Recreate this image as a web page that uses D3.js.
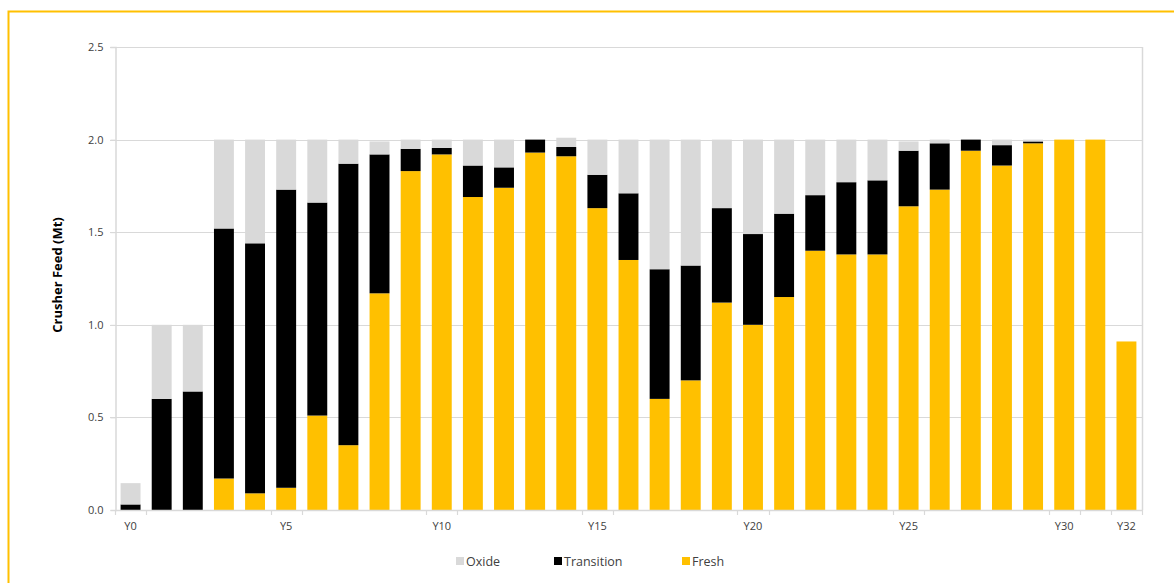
<!DOCTYPE html>
<html>
<head>
<meta charset="utf-8">
<script src="https://cdn.jsdelivr.net/npm/d3@7"></script>
<style>
  html, body { margin: 0; padding: 0; background: #fff; }
  svg { display: block; font-family: "Open Sans", "Noto Sans", sans-serif; }
</style>
</head>
<body>
<svg id="chart" width="1174" height="583"></svg>
<script>
// Crusher feed by ore type per year (Mt)
const years = ["Y0","Y1","Y2","Y3","Y4","Y5","Y6","Y7","Y8","Y9","Y10","Y11","Y12","Y13","Y14","Y15","Y16",
               "Y17","Y18","Y19","Y20","Y21","Y22","Y23","Y24","Y25","Y26","Y27","Y28","Y29","Y30","Y31","Y32"];
const fresh      = [0, 0, 0, 0.17, 0.09, 0.12, 0.51, 0.35, 1.17, 1.83, 1.92, 1.69, 1.74, 1.93, 1.91, 1.63, 1.35,
                    0.60, 0.70, 1.12, 1.00, 1.15, 1.40, 1.38, 1.38, 1.64, 1.73, 1.94, 1.86, 1.98, 2.00, 2.00, 0.91];
const transition = [0.03, 0.60, 0.64, 1.35, 1.35, 1.61, 1.15, 1.52, 0.75, 0.12, 0.035, 0.17, 0.11, 0.07, 0.05, 0.18, 0.36,
                    0.70, 0.62, 0.51, 0.49, 0.45, 0.30, 0.39, 0.40, 0.30, 0.25, 0.06, 0.11, 0.01, 0, 0, 0];
const oxide      = [0.115, 0.40, 0.36, 0.48, 0.56, 0.27, 0.34, 0.13, 0.07, 0.05, 0.045, 0.14, 0.15, 0, 0.05, 0.19, 0.29,
                    0.70, 0.68, 0.37, 0.51, 0.40, 0.30, 0.23, 0.22, 0.05, 0.02, 0, 0.03, 0.01, 0, 0, 0];
const yTicks = [0, 0.5, 1.0, 1.5, 2.0, 2.5];
const xLabels = ["Y0","Y5","Y10","Y15","Y20","Y25","Y30","Y32"];
const seriesNames = ["Fresh", "Transition", "Oxide"];
const colors = { Oxide: "#D9D9D9", Transition: "#000000", Fresh: "#FFC000" };

const svg = d3.select("#chart");
const margin = { left: 115, right: 1142, top: 47, bottom: 510 };

// Outer frame
svg.append("path")
  .attr("d", `M8.5,600 V11.5 H1180`)
  .attr("fill", "none").attr("stroke", "#FFC000").attr("stroke-width", 2);

const x = d3.scaleBand().domain(years).range([margin.left, margin.right]).paddingInner(0.36).paddingOuter(0.18);
const y = d3.scaleLinear().domain([0, 2.5]).range([margin.bottom, margin.top]);

// Gridlines
svg.append("g").selectAll("line").data(yTicks.filter(d => d > 0)).join("line")
  .attr("x1", margin.left - 5).attr("x2", margin.right)
  .attr("y1", d => Math.round(y(d)) + 0.5).attr("y2", d => Math.round(y(d)) + 0.5)
  .attr("stroke", "#D9D9D9").attr("stroke-width", 1.2);

// Plot side borders
svg.append("line").attr("x1", margin.right + 0.5).attr("x2", margin.right + 0.5)
  .attr("y1", margin.top).attr("y2", margin.bottom)
  .attr("stroke", "#D9D9D9").attr("stroke-width", 1.5);

// Y axis
const yAxis = svg.append("g").attr("transform", `translate(${margin.left + 0.5},0)`)
  .call(d3.axisLeft(y).tickValues(yTicks).tickFormat(d3.format(".1f")).tickSize(5).tickPadding(7));
yAxis.select(".domain").attr("stroke", "#D9D9D9").attr("stroke-width", 1.5);
yAxis.selectAll(".tick line").attr("stroke", "#D9D9D9");
yAxis.selectAll(".tick text").attr("fill", "#404040").style("font-size", "11px")
  .style("font-family", "'Open Sans', sans-serif");

// Stacked bars
const rows = years.map((yr, i) => ({ year: yr, Fresh: fresh[i], Transition: transition[i], Oxide: oxide[i] }));
const stack = d3.stack().keys(seriesNames)(rows);
svg.append("g").selectAll("g").data(stack).join("g")
  .attr("fill", d => colors[d.key])
  .selectAll("rect").data(d => d.filter(s => s[1] - s[0] > 0)).join("rect")
  .attr("x", d => x(d.data.year))
  .attr("width", x.bandwidth())
  .attr("y", d => y(d[1]))
  .attr("height", d => y(d[0]) - y(d[1]));

// X axis baseline and ticks
const step = x.step();
const xg = svg.append("g");
xg.append("line").attr("x1", margin.left).attr("x2", margin.right + 1)
  .attr("y1", margin.bottom + 0.5).attr("y2", margin.bottom + 0.5)
  .attr("stroke", "#D9D9D9").attr("stroke-width", 1.5);
const tickBounds = [];
xLabels.forEach(l => {
  const c = x(l) + x.bandwidth() / 2;
  tickBounds.push(c - step / 2, c + step / 2);
});
xg.selectAll("line.tk").data(tickBounds).join("line").attr("class", "tk")
  .attr("x1", d => Math.round(d) + 0.5).attr("x2", d => Math.round(d) + 0.5)
  .attr("y1", margin.bottom).attr("y2", margin.bottom + 5)
  .attr("stroke", "#D9D9D9").attr("stroke-width", 1.2);
xg.selectAll("text").data(xLabels).join("text")
  .attr("x", d => x(d) + x.bandwidth() / 2)
  .attr("y", 530)
  .attr("text-anchor", "middle")
  .attr("fill", "#404040").style("font-size", "11px")
  .text(d => d);

// Y axis title
svg.append("text")
  .attr("transform", `translate(62,275) rotate(-90)`)
  .attr("text-anchor", "middle")
  .attr("fill", "#000").style("font-size", "13px").style("font-weight", "bold")
  .text("Crusher Feed (Mt)");

// Legend
const legendItems = [
  { name: "Oxide", x: 456 },
  { name: "Transition", x: 554 },
  { name: "Fresh", x: 682 }
];
const lg = svg.append("g");
legendItems.forEach(it => {
  lg.append("rect").attr("x", it.x).attr("y", 557).attr("width", 8).attr("height", 8)
    .attr("fill", colors[it.name]);
  lg.append("text").attr("x", it.x + 10).attr("y", 565.5)
    .attr("fill", "#404040").style("font-size", "12.5px").text(it.name);
});
</script>
</body>
</html>
